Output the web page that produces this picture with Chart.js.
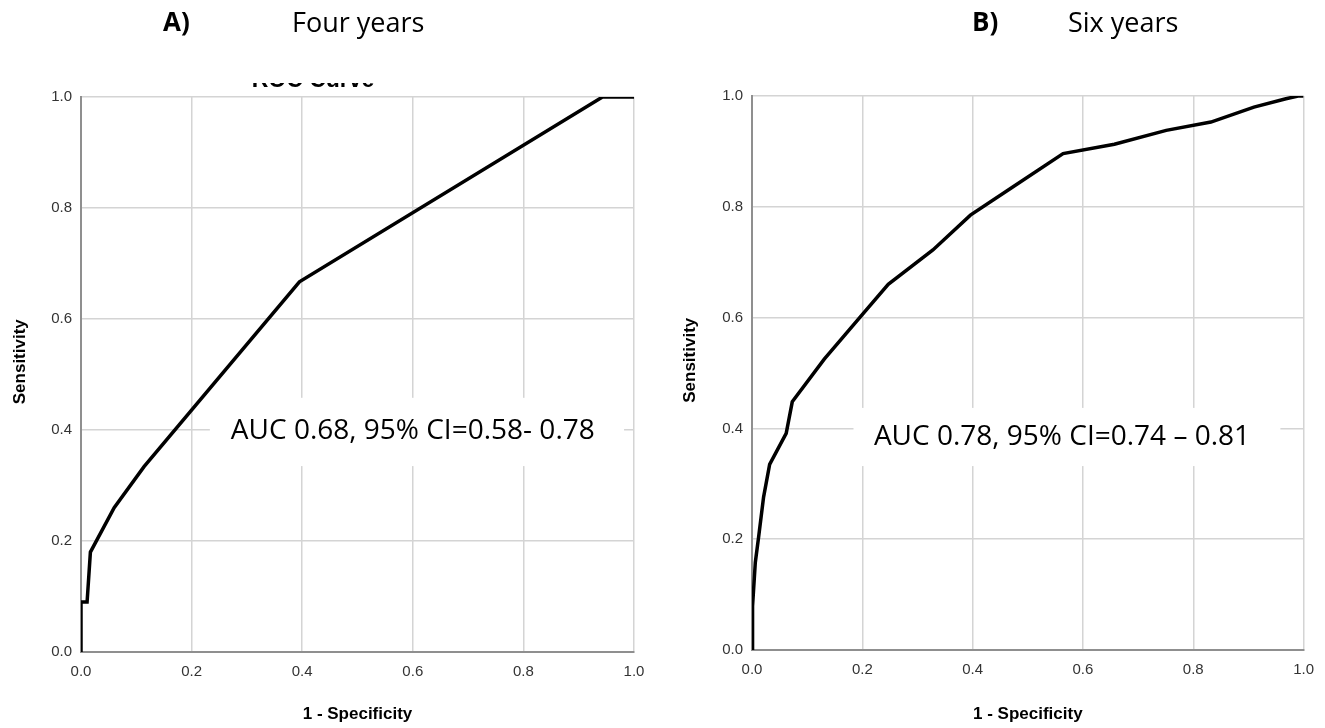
<!DOCTYPE html>
<html>
<head>
<meta charset="utf-8">
<script src="https://cdn.jsdelivr.net/npm/chart.js@4.4.0/dist/chart.umd.min.js"></script>
<style>
  html, body { margin: 0; padding: 0; background: #fff; width: 1325px; height: 728px; overflow: hidden; }
  .panel { position: absolute; top: 0; height: 728px; }
  .hdr { position: absolute; top: 8px; font-family: "Open Sans", sans-serif; font-size: 27px; line-height: 1; color: #000; white-space: nowrap; }
  .hdr.letter { font-weight: bold; font-size: 26px; }
</style>
</head>
<body>
<div class="panel" style="left:0;width:662px"><canvas id="chartA"></canvas></div>
<div class="panel" style="left:662px;width:663px"><canvas id="chartB"></canvas></div>
<div class="hdr letter" id="letterA" style="left:163px"></div>
<div class="hdr" id="titleA" style="left:292px"></div>
<div class="hdr letter" id="letterB" style="left:972px"></div>
<div class="hdr" id="titleB" style="left:1068px"></div>
<script>
// tick values shared by both axes
const tickValues = [0, 0.2, 0.4, 0.6, 0.8, 1.0];

// A) four years ROC curve (1 - specificity, sensitivity)
const fourYearFpr = [0, 0, 0.011, 0.017, 0.06, 0.114, 0.395, 0.943, 1.0];
const fourYearTpr = [0, 0.09, 0.09, 0.18, 0.26, 0.334, 0.667, 1.0, 1.0];

// B) six years ROC curve
const sixYearFpr = [0, 0.001, 0.006, 0.012, 0.021, 0.032, 0.054, 0.062, 0.073, 0.131, 0.196, 0.247, 0.328, 0.396, 0.470, 0.564, 0.657, 0.751, 0.832, 0.910, 0.968, 0.99, 1.0];
const sixYearTpr = [0, 0.079, 0.158, 0.204, 0.276, 0.335, 0.376, 0.391, 0.448, 0.525, 0.601, 0.660, 0.722, 0.785, 0.834, 0.896, 0.913, 0.938, 0.953, 0.980, 0.995, 1.0, 1.0];

const panelLetters = ['A)', 'B)'];
const panelTitles = ['Four years', 'Six years'];
const aucLabels = ['AUC 0.68, 95% CI=0.58- 0.78', 'AUC 0.78, 95% CI=0.74 \u2013 0.81'];

document.getElementById('letterA').textContent = panelLetters[0];
document.getElementById('titleA').textContent = panelTitles[0];
document.getElementById('letterB').textContent = panelLetters[1];
document.getElementById('titleB').textContent = panelTitles[1];

const toPoints = (xs, ys) => xs.map((x, i) => ({ x, y: ys[i] }));
const axisFont = '"Liberation Sans", Arial, sans-serif';

// white label box with the AUC text, placed in data units
const aucBox = {
  id: 'aucBox',
  beforeDatasetsDraw(chart, args, o) {
    const { ctx, scales: { x, y } } = chart;
    const x0 = x.getPixelForValue(o.box[0]), x1 = x.getPixelForValue(o.box[1]);
    const y0 = y.getPixelForValue(o.box[2]), y1 = y.getPixelForValue(o.box[3]);
    ctx.save();
    ctx.fillStyle = '#fff';
    ctx.fillRect(x0, y0, x1 - x0, y1 - y0);
    ctx.fillStyle = '#000';
    ctx.font = '28px "Open Sans", sans-serif';
    ctx.textBaseline = 'middle';
    ctx.textAlign = 'left';
    ctx.fillText(o.text, x.getPixelForValue(o.textX), y.getPixelForValue(o.textY));
    ctx.restore();
  }
};

// "Sensitivity" is not centred on the axis in the original, so draw it here
const yTitle = {
  id: 'yTitle',
  afterDraw(chart, args, o) {
    const { ctx, scales: { y } } = chart;
    ctx.save();
    ctx.translate(o.x, y.getPixelForValue(o.atValue));
    ctx.rotate(-Math.PI / 2);
    ctx.fillStyle = '#000';
    ctx.font = 'bold 17px ' + axisFont;
    ctx.textAlign = 'center';
    ctx.textBaseline = 'middle';
    ctx.fillText(o.text, 0, 0);
    ctx.restore();
  }
};

// leftover bottom edge of a cut-off "ROC Curve" heading in panel A
const cutTitle = {
  id: 'cutTitle',
  afterDraw(chart, args, o) {
    if (!o.text) return;
    const { ctx } = chart;
    ctx.save();
    ctx.beginPath();
    ctx.rect(o.cx - 90, o.clipTop, 180, o.baseline - o.clipTop + 1);
    ctx.clip();
    ctx.fillStyle = '#000';
    ctx.font = 'bold 23px ' + axisFont;
    ctx.textAlign = 'center';
    ctx.textBaseline = 'alphabetic';
    ctx.fillText(o.text, o.cx, o.baseline);
    ctx.restore();
  }
};

function rocChart(id, xs, ys, cfg) {
  const tickFont = { family: axisFont, size: 15 };
  const titleFont = { family: axisFont, size: 17, weight: 'bold' };
  return new Chart(document.getElementById(id), {
    type: 'line',
    data: {
      datasets: [{
        data: toPoints(xs, ys),
        borderColor: '#000',
        borderWidth: 3.5,
        pointRadius: 0,
        tension: 0,
        fill: false
      }]
    },
    options: {
      responsive: true,
      maintainAspectRatio: false,
      animation: false,
      layout: { padding: { top: cfg.top, right: cfg.right, left: 0, bottom: 0 } },
      plugins: {
        legend: { display: false },
        tooltip: { enabled: false },
        aucBox: cfg.auc,
        yTitle: { text: 'Sensitivity', x: cfg.yTitleX, atValue: 0.523 },
        cutTitle: cfg.cut || {}
      },
      scales: {
        x: {
          type: 'linear', min: 0, max: 1,
          afterBuildTicks: s => { s.ticks = tickValues.map(v => ({ value: v })); },
          afterFit: s => { s.height = cfg.xAxisH; },
          ticks: { callback: v => v.toFixed(1), font: tickFont, color: '#333', padding: 11, maxRotation: 0 },
          grid: { color: '#d4d4d4', lineWidth: 1.5, drawTicks: false },
          border: { color: '#8f8f8f', width: 2 },
          title: { display: true, text: '1 - Specificity', font: titleFont, color: '#000', padding: { top: 0, bottom: 3 } }
        },
        y: {
          type: 'linear', min: 0, max: 1,
          afterBuildTicks: s => { s.ticks = tickValues.map(v => ({ value: v })); },
          afterFit: s => { s.width = cfg.yAxisW; },
          ticks: { callback: v => v.toFixed(1), font: tickFont, color: '#333', padding: 9 },
          grid: { color: '#d4d4d4', lineWidth: 1.5, drawTicks: false },
          border: { color: '#8f8f8f', width: 2 },
          title: { display: false }
        }
      }
    },
    plugins: [aucBox, yTitle, cutTitle]
  });
}

rocChart('chartA', fourYearFpr, fourYearTpr, {
  top: 97, right: 28, yAxisW: 81, xAxisH: 76, yTitleX: 20,
  auc: { text: aucLabels[0], box: [0.233, 0.982, 0.458, 0.335], textX: 0.271, textY: 0.398 },
  cut: { text: 'ROC Curve', cx: 313, clipTop: 83, baseline: 87 }
});

rocChart('chartB', sixYearFpr, sixYearTpr, {
  top: 96, right: 20, yAxisW: 90, xAxisH: 78, yTitleX: 28,
  auc: { text: aucLabels[1], box: [0.184, 0.958, 0.437, 0.332], textX: 0.221, textY: 0.384 }
});
</script>
</body>
</html>
